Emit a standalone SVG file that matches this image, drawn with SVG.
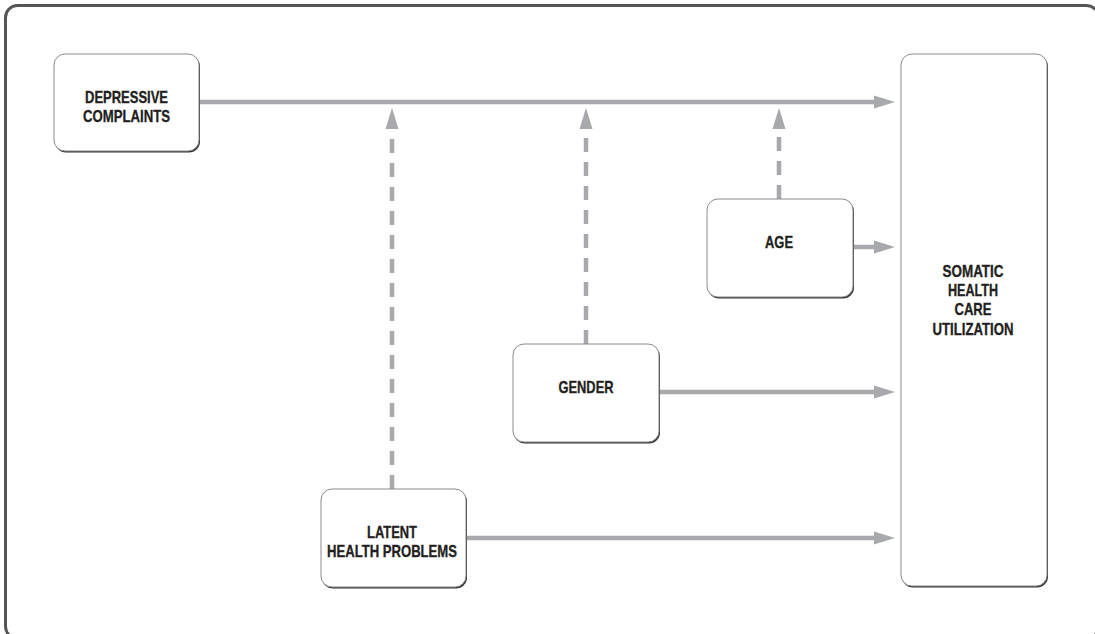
<svg xmlns="http://www.w3.org/2000/svg" width="1095" height="634" viewBox="0 0 1095 634">
  <defs>
    <style>
      .frame { fill: none; stroke: #555; stroke-width: 3; }
      .shadow { fill: #333; }
      .box { fill: #fff; stroke: #8a8a8a; stroke-width: 1; }
      .lbl { font-family: "Liberation Sans", Arial, sans-serif; font-weight: bold; font-size: 17px; fill: #231f20; stroke: #231f20; stroke-width: 0.35; text-anchor: middle; }
      .conn { fill: none; stroke: #a7a9ac; stroke-width: 4.5; }
      .dash { stroke-dasharray: 14 10; }
    </style>
    <marker id="head" markerUnits="userSpaceOnUse" markerWidth="22" markerHeight="14" refX="6" refY="6.5" orient="auto" overflow="visible">
      <path d="M0,0 L21,6.5 L0,13 Z" fill="#a7a9ac"/>
    </marker>
  </defs>

  <rect width="1095" height="634" fill="#fff"/>
  <!-- outer frame, right and bottom edges run just past the canvas -->
  <rect class="frame" x="5.5" y="5.5" width="1093" height="633" rx="12"/>

  <!-- connectors -->
  <g id="connectors">
    <line class="conn" x1="199" y1="102" x2="880" y2="102" marker-end="url(#head)"/>
    <line class="conn" x1="853" y1="247" x2="880" y2="247" marker-end="url(#head)"/>
    <line class="conn" x1="659" y1="392" x2="880" y2="392" marker-end="url(#head)"/>
    <line class="conn" x1="466" y1="538" x2="880" y2="538" marker-end="url(#head)"/>
    <line class="conn dash" x1="392" y1="489" x2="392" y2="123" marker-end="url(#head)"/>
    <line class="conn dash" x1="586" y1="344" x2="586" y2="123" marker-end="url(#head)"/>
    <line class="conn dash" x1="779" y1="199" x2="779" y2="123" marker-end="url(#head)"/>
  </g>

  <g id="depressive">
    <rect class="shadow" x="55" y="55.5" width="145" height="97" rx="11"/>
    <rect class="box" x="54" y="54" width="145" height="97" rx="11"/>
    <text class="lbl" x="126.5" y="103" textLength="83" lengthAdjust="spacingAndGlyphs">DEPRESSIVE</text>
    <text class="lbl" x="126.5" y="122" textLength="87" lengthAdjust="spacingAndGlyphs">COMPLAINTS</text>
  </g>

  <g id="age">
    <rect class="shadow" x="708" y="200.5" width="146" height="98" rx="11"/>
    <rect class="box" x="707" y="199" width="146" height="98" rx="11"/>
    <text class="lbl" x="779" y="248" textLength="28" lengthAdjust="spacingAndGlyphs">AGE</text>
  </g>

  <g id="gender">
    <rect class="shadow" x="514" y="345.5" width="146" height="98" rx="11"/>
    <rect class="box" x="513" y="344" width="146" height="98" rx="11"/>
    <text class="lbl" x="586" y="393" textLength="55" lengthAdjust="spacingAndGlyphs">GENDER</text>
  </g>

  <g id="latent">
    <rect class="shadow" x="322" y="490.5" width="145" height="98" rx="11"/>
    <rect class="box" x="321" y="489" width="145" height="98" rx="11"/>
    <text class="lbl" x="392" y="538" textLength="50" lengthAdjust="spacingAndGlyphs">LATENT</text>
    <text class="lbl" x="392" y="557" textLength="130" lengthAdjust="spacingAndGlyphs">HEALTH PROBLEMS</text>
  </g>

  <g id="somatic">
    <rect class="shadow" x="902" y="55.5" width="146" height="532" rx="11"/>
    <rect class="box" x="901" y="54" width="146" height="532" rx="11"/>
    <text class="lbl" x="973" y="277" textLength="61" lengthAdjust="spacingAndGlyphs">SOMATIC</text>
    <text class="lbl" x="973" y="296" textLength="50" lengthAdjust="spacingAndGlyphs">HEALTH</text>
    <text class="lbl" x="973" y="315" textLength="37" lengthAdjust="spacingAndGlyphs">CARE</text>
    <text class="lbl" x="973" y="335" textLength="81" lengthAdjust="spacingAndGlyphs">UTILIZATION</text>
  </g>
</svg>
